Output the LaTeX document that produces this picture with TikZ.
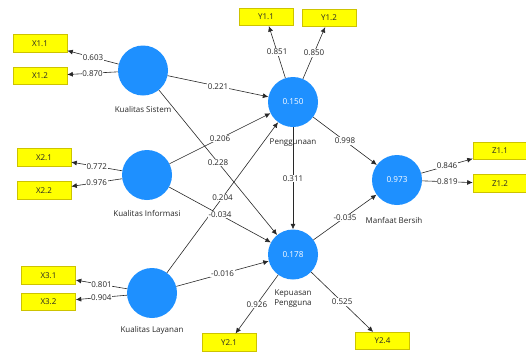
\documentclass[tikz,border=0pt]{standalone}
\usepackage{fontspec}
\setmainfont{Open Sans}
\usetikzlibrary{arrows.meta,calc}
\definecolor{lv}{RGB}{30,144,255}
\definecolor{mvfill}{RGB}{255,255,0}
\definecolor{mvdraw}{RGB}{205,195,0}
\definecolor{ln}{RGB}{40,40,40}
\tikzset{
  lvnode/.style={circle,fill=lv,minimum size=50pt,inner sep=0pt,text=white,font=\fontsize{8.2}{9}\selectfont},
  mvnode/.style={rectangle,fill=mvfill,draw=mvdraw,line width=0.6pt,minimum width=54pt,minimum height=17.5pt,inner sep=0pt,text=black!85,font=\fontsize{8}{9}\selectfont},
  lvlabel/.style={font=\fontsize{8}{10}\selectfont,text=black!85,align=center,inner sep=0pt},
  conn/.style={draw=ln,line width=0.6pt,-{Latex[length=5.5pt,width=5pt]}},
  wt/.style={fill=white,inner sep=0.6pt,font=\fontsize{8}{9}\selectfont,text=black!85}
}
\begin{document}
\begin{tikzpicture}[x=1pt,y=-1pt]
\useasboundingbox (0,0) rectangle (526,351);
% latent variables
\node[lvnode] (ks) at (143,70.5) {};
\node[lvnode] (ki) at (147,175) {};
\node[lvnode] (kl) at (152,293) {};
\node[lvnode] (pg) at (293,102) {0.150};
\node[lvnode] (kp) at (293,254.5) {0.178};
\node[lvnode] (mb) at (397,180) {0.973};
% latent labels
\node[lvlabel] (ksl) at (143,109) {Kualitas Sistem};
\node[lvlabel] (kil) at (147,213) {Kualitas Informasi};
\node[lvlabel] (kll) at (152,330) {Kualitas Layanan};
\node[lvlabel] (pgl) at (293,143) {Penggunaan};
\node[lvlabel] (kpl) at (293,299) {Kepuasan\\Pengguna};
\node[lvlabel] (mbl) at (394,220) {Manfaat Bersih};
% indicators
\node[mvnode] (x11) at (40,43.5) {X1.1};
\node[mvnode] (x12) at (40,76) {X1.2};
\node[mvnode] (y11) at (266,17) {Y1.1};
\node[mvnode] (y12) at (329,18) {Y1.2};
\node[mvnode] (x21) at (44,157.5) {X2.1};
\node[mvnode] (x22) at (44,190.5) {X2.2};
\node[mvnode] (z11) at (500,151) {Z1.1};
\node[mvnode] (z12) at (500,183.5) {Z1.2};
\node[mvnode] (x31) at (48.5,275.5) {X3.1};
\node[mvnode] (x32) at (48.5,302) {X3.2};
\node[mvnode] (y21) at (229,342.5) {Y2.1};
\node[mvnode] (y24) at (382.5,341) {Y2.4};
% outer loadings
\draw[conn] (ks) -- node[wt]{0.603} (x11);
\draw[conn] (ks) -- node[wt]{0.870} (x12);
\draw[conn] (ki) -- node[wt]{0.772} (x21);
\draw[conn] (ki) -- node[wt]{0.976} (x22);
\draw[conn] (kl) -- node[wt]{0.801} (x31);
\draw[conn] (kl) -- node[wt]{0.904} (x32);
\draw[conn] (pg) -- node[wt]{0.851} (y11);
\draw[conn] (pg) -- node[wt]{0.850} (y12);
\draw[conn] (mb) -- node[wt]{0.846} (z11);
\draw[conn] (mb) -- node[wt]{0.819} (z12);
\draw[conn] (kp) -- node[wt]{0.926} (y21);
\draw[conn] (kp) -- node[wt]{0.525} (y24);
% structural paths
\draw[conn] (ks) -- (pg);
\draw[conn] (ks) -- (kp);
\draw[conn] (ki) -- (pg);
\draw[conn] (ki) -- (kp);
\draw[conn] (kl) -- (pg);
\draw[conn] (kl) -- (kp);
\draw[conn] (pg) -- (mb);
\draw[conn] (pg) -- (kp);
\draw[conn] (kp) -- (mb);
% path coefficients (on top of crossing lines)
\path (ks) -- node[wt]{0.221} (pg);
\path (ks) -- node[wt]{0.228} (kp);
\path (ki) -- node[wt]{0.206} (pg);
\path (ki) -- node[wt]{-0.034} (kp);
\path (kl) -- node[wt]{0.204} (pg);
\path (kl) -- node[wt]{-0.016} (kp);
\path (pg) -- node[wt]{0.998} (mb);
\path (pg) -- node[wt]{0.311} (kp);
\path (kp) -- node[wt]{-0.035} (mb);
\end{tikzpicture}
\end{document}
